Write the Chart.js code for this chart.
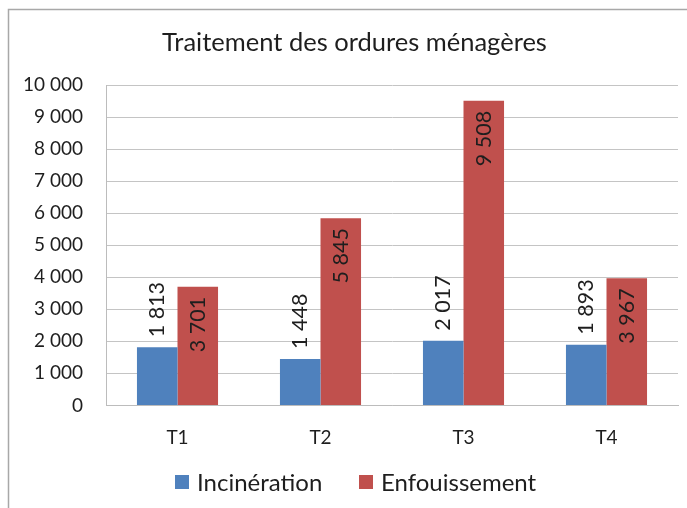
<!DOCTYPE html>
<html>
<head>
<meta charset="utf-8">
<script src="https://cdn.jsdelivr.net/npm/chart.js@4"></script>
<style>
  html, body { margin: 0; padding: 0; background: #ffffff; }
  #wrap { position: relative; width: 687px; height: 508px; }
</style>
</head>
<body>
<div id="wrap"><canvas id="c" width="687" height="508"></canvas></div>
<script>
const categories = ["T1", "T2", "T3", "T4"];
const incineration = [1813, 1448, 2017, 1893];
const enfouissement = [3701, 5845, 9508, 3967];
const seriesNames = ["Incinération", "Enfouissement"];
const seriesColors = ["#4F81BD", "#C0504D"];
const chartTitle = "Traitement des ordures ménagères";
const yTicks = [0, 1000, 2000, 3000, 4000, 5000, 6000, 7000, 8000, 9000, 10000];

const FONT = "Lato, 'Open Sans', sans-serif";
const TEXT = "#1e1e1e";
const fmt = v => String(Math.round(v)).replace(/\B(?=(\d{3})+(?!\d))/g, " ");

const frame = {
  id: "frame",
  beforeDraw(chart) {
    const ctx = chart.ctx;
    ctx.save();
    ctx.strokeStyle = "#a8a8a8";
    ctx.lineWidth = 1.5;
    ctx.beginPath();
    ctx.moveTo(8.5, 508);
    ctx.lineTo(8.5, 9.5);
    ctx.lineTo(687, 9.5);
    ctx.stroke();
    ctx.restore();
  },
  afterDraw(chart) {
    const ctx = chart.ctx;
    ctx.save();
    // title
    ctx.font = "25.5px " + FONT;
    ctx.fillStyle = TEXT;
    ctx.textAlign = "center";
    ctx.textBaseline = "middle";
    ctx.fillText(chartTitle, 354.5, 43);
    // legend
    ctx.font = "24px " + FONT;
    ctx.textAlign = "left";
    const box = 14, gapBT = 8;
    const starts = [175, 359];
    const cy = 482;
    seriesNames.forEach((n, i) => {
      const x = starts[i];
      ctx.fillStyle = seriesColors[i];
      ctx.fillRect(x, cy - box / 2, box, box);
      ctx.fillStyle = TEXT;
      ctx.fillText(n, x + box + gapBT, cy + 1);
    });
    ctx.restore();
  }
};

const barLabels = {
  id: "barLabels",
  afterDatasetsDraw(chart) {
    const ctx = chart.ctx;
    ctx.save();
    ctx.font = "21.5px " + FONT;
    ctx.fillStyle = TEXT;
    ctx.textBaseline = "middle";
    chart.data.datasets.forEach((ds, di) => {
      const meta = chart.getDatasetMeta(di);
      meta.data.forEach((bar, i) => {
        const txt = fmt(ds.data[i]);
        ctx.save();
        if (di === 0) {
          ctx.translate(bar.x, bar.y - 10);
          ctx.rotate(-Math.PI / 2);
          ctx.textAlign = "left";
        } else {
          ctx.translate(bar.x, bar.y + 10);
          ctx.rotate(-Math.PI / 2);
          ctx.textAlign = "right";
        }
        ctx.fillText(txt, 0, 0);
        ctx.restore();
      });
    });
    ctx.restore();
  }
};

new Chart(document.getElementById("c"), {
  type: "bar",
  data: {
    labels: categories,
    datasets: [
      { label: seriesNames[0], data: incineration, backgroundColor: seriesColors[0],
        categoryPercentage: 0.567, barPercentage: 1.0 },
      { label: seriesNames[1], data: enfouissement, backgroundColor: seriesColors[1],
        categoryPercentage: 0.567, barPercentage: 1.0 }
    ]
  },
  options: {
    responsive: false,
    animation: false,
    devicePixelRatio: 1,
    layout: { padding: { left: 0, right: 9, top: 85, bottom: 38.6 } },
    plugins: {
      title: { display: false },
      legend: { display: false },
      tooltip: { enabled: false }
    },
    scales: {
      x: {
        grid: { display: false, drawTicks: false },
        border: { display: true, color: "#bcbcbc", width: 1 },
        ticks: { color: TEXT, font: { family: FONT, size: 19, lineHeight: 1.2 }, padding: 20.6 }
      },
      y: {
        min: 0, max: 10000,
        afterBuildTicks(scale) { scale.ticks = yTicks.map(v => ({ value: v })); },
        grid: { color: "#c4c4c4", drawTicks: false, lineWidth: 1 },
        border: { display: true, color: "#bcbcbc", width: 1 },
        ticks: { color: TEXT, font: { family: FONT, size: 19 }, padding: 23,
                 callback: v => fmt(v) },
        afterFit(scale) { scale.width = 106; }
      }
    }
  },
  plugins: [frame, barLabels]
});
</script>
</body>
</html>
